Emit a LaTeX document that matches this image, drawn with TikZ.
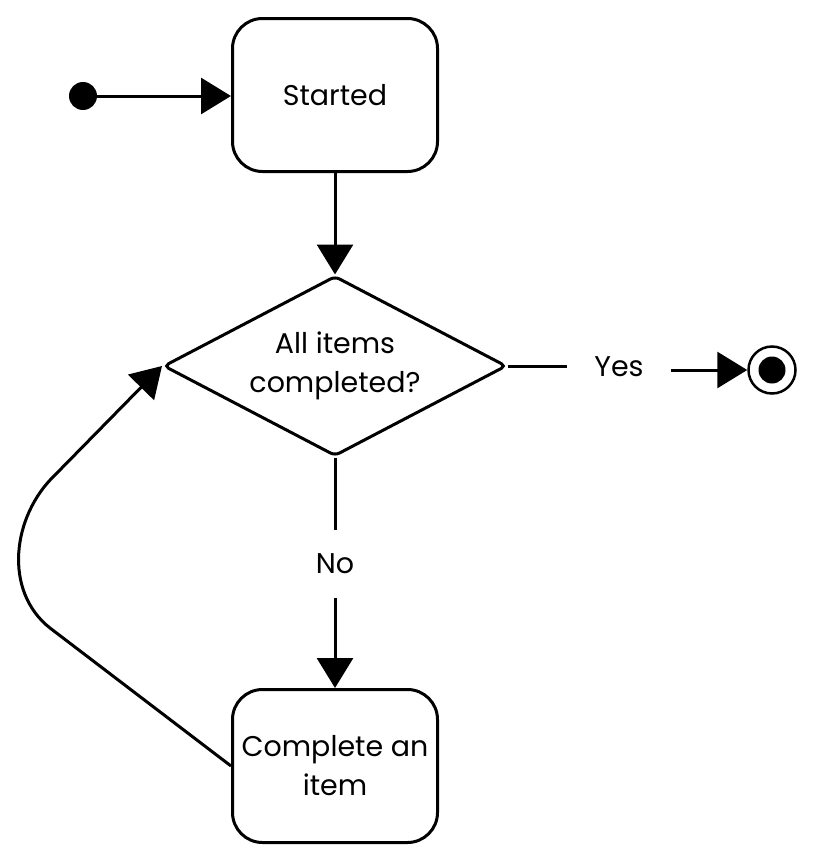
\documentclass[tikz,border=0pt]{standalone}
\usepackage{fontspec}
\setmainfont{Poppins}
\usetikzlibrary{arrows.meta,shapes.geometric}
\begin{document}
\begin{tikzpicture}[x=1pt,y=-1pt,
  line width=3pt,
  txt/.style={font=\fontsize{28.5}{39}\selectfont},
  statebox/.style={txt, draw, rounded corners=30pt, minimum width=205pt, minimum height=153pt, align=center, inner sep=0pt},
  decision/.style={txt, draw, diamond, aspect=1.9, rounded corners=5pt, minimum width=343pt, minimum height=180pt, align=center, inner sep=0pt},
  flow/.style={-{Triangle[length=30pt,width=36pt]}},
  lbl/.style={txt, inner sep=0pt}
]
\useasboundingbox (0,0) rectangle (817,862);

\node[circle, fill, inner sep=0pt, minimum size=28pt] (start) at (83,96) {};
\node[statebox] (started) at (335,95) {Started};
\node[decision] (dec) at (335,366) {All items\\completed?};
\node[statebox] (item) at (335,766) {Complete an\\item};
\node[lbl, inner xsep=26pt] (yes) at (619,367) {Yes};
\node[lbl, inner ysep=22pt] (no) at (335,564) {No};
\node[circle, draw, line width=2.5pt, inner sep=0pt, minimum size=47pt] (final) at (772,370) {};
\node[circle, fill, inner sep=0pt, minimum size=27pt] (finaldot) at (final) {};

\coordinate (l1) at (50,628);
\coordinate (l2) at (55,475);

\draw[flow] (start.center) -- (start -| started.west);
\draw[flow] (started.south) -- (dec.north);
\draw (dec.east) -- (dec.east -| yes.west);
\draw[flow] (final -| yes.east) -- (final.west);
\draw (dec.south) -- (no.north);
\draw[flow] (no.south) -- (item.north);
\draw[flow] (item.west) -- (l1) .. controls (3,591) and (12,516) .. (l2) -- (dec.west);
\end{tikzpicture}
\end{document}
